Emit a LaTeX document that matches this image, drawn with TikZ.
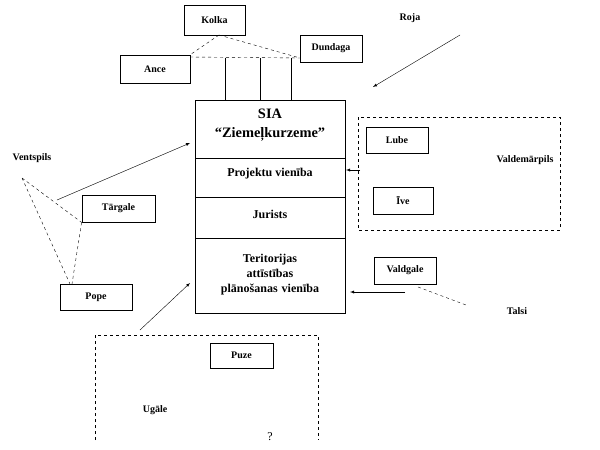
\documentclass[tikz,border=0pt]{standalone}
\usepackage{fontspec}
\setmainfont{Liberation Serif}
\begin{document}
\begin{tikzpicture}[x=1pt,y=-1pt,
  box/.style={draw,thick,rectangle,inner sep=0pt,font=\bfseries\normalsize},
  lbl/.style={font=\bfseries\normalsize},
  dsh/.style={dashed,thin},
  arr/.style={-latex,thin}]
\useasboundingbox (0,0) rectangle (600,450);
% main block
\draw[thick] (195,100) rectangle (345,313);
\draw (195,158) -- (345,158) (195,197) -- (345,197) (195,238) -- (345,238);
\node[font=\bfseries\Large] (sia) at (270,114) {SIA};
\node[font=\bfseries\Large] (zk) at (270,134) {“Ziemeļkurzeme”};
\node[font=\bfseries\large] (pv) at (270,174) {Projektu vienība};
\node[font=\bfseries\large] (jur) at (270,214) {Jurists};
\node[font=\bfseries\large,align=center,text width=145pt,inner sep=0pt] (tap) at (270,275) {Teritorijas\\[1pt] attīstības\\[1pt] plānošanas vienība};
\coordinate (mtop1) at (225,100);\coordinate (mtop2) at (260,100);\coordinate (mtop3) at (291,100);
% top
\node[box,minimum width=61pt,minimum height=30pt] (kolka) at (214.5,20) {Kolka};
\node[box,minimum width=70pt,minimum height=28pt] (ance) at (155,69) {Ance};
\node[box,minimum width=62pt,minimum height=27pt] (dund) at (331,48.5) {Dundaga};
\coordinate (kb) at (219,35);
\coordinate (ar) at (190,57);\coordinate (dl) at (300,58);
\draw[dsh] (kb) -- (ance.north east) (kb) -- (dl) (ar) -- (dl);
\coordinate (v1) at (225,57.6);\coordinate (v2) at (260,57.8);\coordinate (v3) at (291,58);
\draw (v1) -- (mtop1) (v2) -- (mtop2) (v3) -- (mtop3);
\node[lbl] (roja) at (410,18) {Roja};
\coordinate (rs) at (460,35);\coordinate (re) at (373,87);
\draw[arr] (rs) -- (re);
% Valdemarpils
\draw[dsh] (358,117) rectangle (560,230);
\node[box,minimum width=62pt,minimum height=26pt] (lube) at (397,140) {Lube};
\node[box,minimum width=60pt,minimum height=27pt] (ive) at (403,200.5) {Īve};
\node[lbl] (valdp) at (525,160) {Valdemārpils};
\coordinate (vs) at (360,170);\coordinate (ve) at (346,170);
\draw[arr] (vs) -- (ve);
% Ventspils
\node[lbl] (vent) at (32,158) {Ventspils};
\node[box,minimum width=73pt,minimum height=27pt] (targ) at (118.5,208.5) {Tārgale};
\node[box,minimum width=72pt,minimum height=26pt] (pope) at (96,297) {Pope};
\coordinate (vp) at (22,178);
\draw[dsh] (vp) -- (targ.south west) (vp) -- (70,284) (targ.south west) -- (72,284);
\coordinate (as) at (57,200);\coordinate (ae) at (190,143);
\draw[arr] (as) -- (ae);
\coordinate (us) at (140,330);\coordinate (ue) at (190,283);
\draw[arr] (us) -- (ue);
% Valdgale
\node[box,minimum width=62pt,minimum height=27pt] (valdg) at (405,270.5) {Valdgale};
\coordinate (gs) at (405,292);\coordinate (ge) at (350,292);
\draw[arr] (gs) -- (ge);
\node[lbl] (talsi) at (517,311) {Talsi};
\draw[dsh] (418,287) -- (466,305);
% Ugale
\draw[dsh] (95,440) -- (95,335) -- (318,335) -- (318,440);
\node[box,minimum width=63pt,minimum height=25pt] (puze) at (241.5,355.5) {Puze};
\node[lbl] (ugale) at (155,410) {Ugāle};
\node[font=\large] (q) at (270,437) {?};
\end{tikzpicture}
\end{document}
